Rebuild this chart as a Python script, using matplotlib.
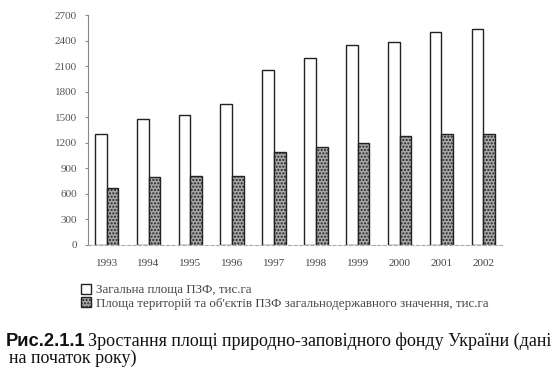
import matplotlib
matplotlib.use('Agg')
import matplotlib.pyplot as plt
import numpy as np

# data
years = ['1993', '1994', '1995', '1996', '1997', '1998', '1999', '2000', '2001', '2002']
total_area = [1303, 1475, 1526, 1655, 2054, 2199, 2344, 2383, 2496, 2539]
national_area = [672, 794, 806, 810, 1088, 1150, 1194, 1279, 1299, 1299]
yticks = [0, 300, 600, 900, 1200, 1500, 1800, 2100, 2400, 2700]

label_total = 'Загальна площа ПЗФ, тис.га'
label_national = "Площа територій та об'єктів ПЗФ загальнодержавного значення, тис.га"

plt.rcParams['font.family'] = ['Liberation Serif', 'DejaVu Serif']

fig = plt.figure(figsize=(5.56, 3.87), dpi=100)
ax = fig.add_axes([0.158, 0.367, 0.745, 0.594])

x = np.arange(len(years))
w = 0.28
ax.bar(x - w / 2, total_area, w, color='white', edgecolor='#222222', linewidth=1.0,
       label=label_total)
ax.bar(x + w / 2, national_area, w, color='#a8a8a8', edgecolor='#222222', linewidth=1.0,
       hatch='.....', label=label_national)

ax.set_xlim(-0.45, len(years) - 0.55)
ax.set_ylim(0, 2700)
ax.set_yticks(yticks)
ax.set_yticklabels([str(v) for v in yticks], fontsize=8, color='#555555')
ax.set_xticks(x)
ax.set_xticklabels(years, fontsize=8, color='#444444')

for s in ['top', 'right']:
    ax.spines[s].set_visible(False)
ax.spines['left'].set_color('#888888')
ax.spines['left'].set_linewidth(0.8)
ax.spines['bottom'].set_color('#aaaaaa')
ax.spines['bottom'].set_linewidth(0.8)
ax.spines['bottom'].set_linestyle((0, (3, 2)))
ax.tick_params(axis='y', length=2, color='#888888', pad=6)
ax.tick_params(axis='x', length=0, pad=10)

ax.legend(loc='upper left', bbox_to_anchor=(-0.03, -0.145), frameon=False, fontsize=9.4,
          handlelength=0.8, handleheight=0.8, handletextpad=0.4, labelspacing=0.1,
          labelcolor='#444444', borderaxespad=0)

fig.text(0.011, 0.106, 'Рис.2.1.1', family='Liberation Sans', fontweight='bold',
         fontsize=13.2, color='#111111', va='baseline')
fig.text(0.158, 0.106, 'Зростання площі природно-заповідного фонду України (дані',
         fontsize=13, color='#111111', va='baseline')
fig.text(0.016, 0.063, 'на початок року)', fontsize=13, color='#111111', va='baseline')

fig.savefig('out.png', dpi=100)
